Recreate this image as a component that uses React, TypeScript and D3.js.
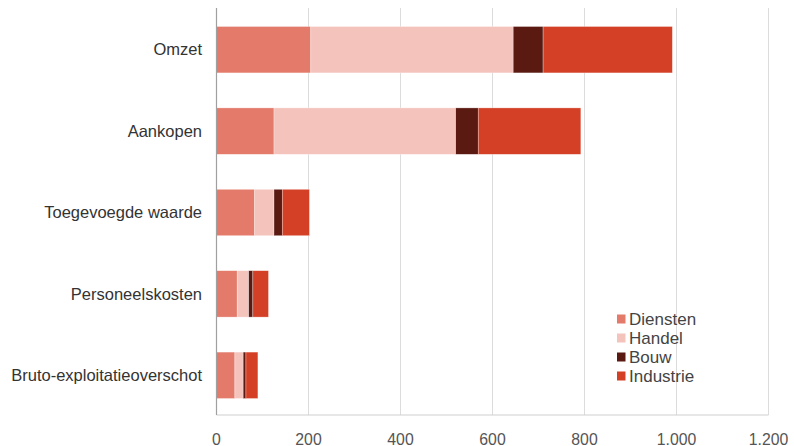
import React from "react";
import * as d3 from "d3";

const categories = ["Omzet", "Aankopen", "Toegevoegde waarde", "Personeelskosten", "Bruto-exploitatieoverschot"];
const seriesNames = ["Diensten", "Handel", "Bouw", "Industrie"];
const diensten = [205, 125, 83, 45, 40];
const handel = [440, 395, 42, 25, 18];
const bouw = [65, 49, 18, 9, 6];
const industrie = [281, 223, 59, 34, 26];
const xTicks = [0, 200, 400, 600, 800, 1000, 1200];
const colors = ["#E47B6A", "#F3C3BC", "#5A1A12", "#D44026"];

const W = 794;
const H = 446;
const margin = { left: 216.5, right: 25.5, top: 9, bottom: 30 };

export default function App() {
  const seriesData = [diensten, handel, bouw, industrie];
  const rows = categories.map((c, i) => {
    const r: any = { cat: c };
    seriesNames.forEach((s, k) => (r[s] = seriesData[k][i]));
    return r;
  });
  const stack = d3.stack<any>().keys(seriesNames)(rows);
  const x = d3.scaleLinear().domain([0, 1200]).range([margin.left, W - margin.right]);
  const y = d3.scaleBand().domain(categories).range([margin.top, 416]).paddingInner(0.43).paddingOuter(0.215);
  const fmt = (v: number) => d3.format(",")(v).replace(/,/g, ".");
  const font = "Liberation Sans, Arial, sans-serif";
  return (
    <svg width={W} height={H} style={{ position: "absolute", left: 0, top: 0 }} fontFamily={font}>
      {xTicks.slice(1).map((t) => (
        <line key={t} x1={x(t)} x2={x(t)} y1={8} y2={415} stroke="#DCDCDC" strokeWidth={1} />
      ))}
      <line x1={margin.left} x2={W - margin.right} y1={415} y2={415} stroke="#CFCFCF" strokeWidth={1} />
      {stack.map((layer, k) => (
        <g key={layer.key} fill={colors[k]}>
          {layer.map((d, i) => (
            <rect
              key={i}
              x={x(d[0])}
              width={x(d[1]) - x(d[0])}
              y={y(categories[i])}
              height={y.bandwidth()}
              stroke="#ffffff"
              strokeOpacity={0.5}
              strokeWidth={0.6}
            />
          ))}
        </g>
      ))}
      <line x1={margin.left} x2={margin.left} y1={8} y2={415} stroke="#A0A0A0" strokeWidth={1.2} />
      {xTicks.map((t) => (
        <text key={t} x={x(t)} y={444.5} textAnchor="middle" fontSize={15.8} fill="#555">
          {fmt(t)}
        </text>
      ))}
      {categories.map((c) => (
        <text key={c} x={202} y={(y(c) as number) + y.bandwidth() / 2} dy="0.35em" textAnchor="end" fontSize={16.5} fill="#333">
          {c}
        </text>
      ))}
      {seriesNames.map((s, k) => (
        <g key={s} transform={`translate(617, ${319 + k * 19})`}>
          <rect x={0} y={-4.5} width={8.5} height={9} fill={colors[k]} />
          <text x={12} y={0} dy="0.35em" fontSize={17} fill="#444">
            {s}
          </text>
        </g>
      ))}
    </svg>
  );
}
